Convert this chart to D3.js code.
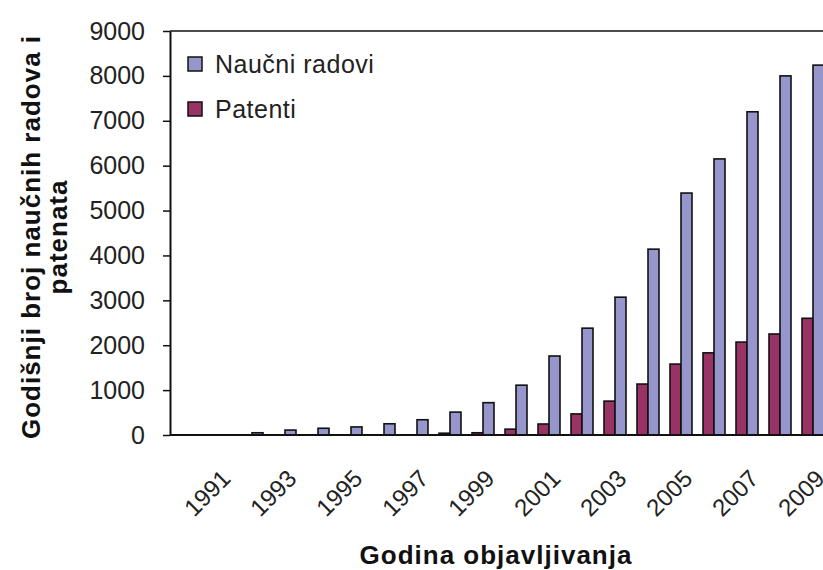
<!DOCTYPE html>
<html>
<head>
<meta charset="utf-8">
<script src="https://cdn.jsdelivr.net/npm/d3@7"></script>
<style>
  body { margin: 0; background: #fff; }
  svg { display: block; font-family: "Liberation Sans", Arial, sans-serif; }
</style>
</head>
<body>
<svg id="chart" width="823" height="570"></svg>
<script>
const years = [1990,1991,1992,1993,1994,1995,1996,1997,1998,1999,2000,2001,2002,2003,2004,2005,2006,2007,2008,2009];
const naucniRadovi = [0,0,50,110,150,180,250,340,510,720,1110,1760,2380,3070,4140,5390,6150,7200,8000,8240];
const patenti =      [0,0,0,0,0,0,0,0,40,50,130,245,470,755,1135,1580,1830,2070,2250,2600];
const yTicks = [0,1000,2000,3000,4000,5000,6000,7000,8000,9000];
const xTickLabels = [1991,1993,1995,1997,1999,2001,2003,2005,2007,2009];
const seriesNames = ["Patenti","Naučni radovi"];
const legendOrder = ["Naučni radovi","Patenti"];
const colors = {"Naučni radovi":"#9696cc","Patenti":"#993366"};

(function () {
const svg = d3.select("#chart");
const mLeft = 170, mTop = 31, mBottom = 435;
const plotRight = 829.5;

const x = d3.scaleBand().domain(years).range([169.5, plotRight]).paddingInner(1/3).paddingOuter(1/6);
const xs = d3.scaleBand().domain(seriesNames).range([0, x.bandwidth()]);
const y = d3.scaleLinear().domain([0, 9000]).range([mBottom, mTop]);

const rows = years.map((yr, i) => ({year: yr, "Patenti": patenti[i], "Naučni radovi": naucniRadovi[i]}));

// top border
svg.append("line").attr("x1", mLeft).attr("x2", 823).attr("y1", mTop).attr("y2", mTop)
  .attr("stroke", "#111").attr("stroke-width", 1.5);

// bars
const g = svg.append("g");
rows.forEach(r => {
  seriesNames.forEach(s => {
    if (r[s] <= 0) return;
    g.append("rect")
      .attr("x", x(r.year) + xs(s))
      .attr("y", y(r[s]))
      .attr("width", xs.bandwidth())
      .attr("height", mBottom - y(r[s]))
      .attr("fill", colors[s])
      .attr("stroke", "#111")
      .attr("stroke-width", 1.6);
  });
});

// y axis
const yAxis = svg.append("g").attr("transform", `translate(${mLeft},0)`)
  .call(d3.axisLeft(y).tickValues(yTicks).tickFormat(d3.format("d")).tickSize(7).tickSizeOuter(0).tickPadding(18));
yAxis.select(".domain").attr("stroke", "#111").attr("stroke-width", 2);
yAxis.selectAll(".tick line").attr("stroke", "#111").attr("stroke-width", 1.5);
yAxis.selectAll(".tick text").attr("font-size", 25).attr("fill", "#222")
  .attr("font-family", "Liberation Sans, Arial, sans-serif");

// x axis line
svg.append("line").attr("x1", mLeft).attr("x2", 823).attr("y1", mBottom).attr("y2", mBottom)
  .attr("stroke", "#111").attr("stroke-width", 2);

// x tick labels
svg.append("g").selectAll("text").data(xTickLabels).join("text")
  .attr("transform", d => `translate(${x(d) + x.bandwidth()/2 + 7},474) rotate(-45)`)
  .attr("text-anchor", "end")
  .attr("dominant-baseline", "central")
  .attr("font-size", 24)
  .attr("fill", "#222")
  .text(d => d);

// legend
const leg = svg.append("g");
legendOrder.forEach((s, i) => {
  const yy = 57 + i * 45;
  leg.append("rect").attr("x", 188).attr("y", yy).attr("width", 14).attr("height", 14)
    .attr("fill", colors[s]).attr("stroke", "#111").attr("stroke-width", 1.5);
  leg.append("text").attr("x", 215).attr("y", yy + 7).attr("dominant-baseline", "central")
    .attr("font-size", 25).attr("letter-spacing", 0.5).attr("fill", "#222").text(s);
});

// axis titles
svg.append("text").attr("transform", "translate(40,237) rotate(-90)")
  .attr("text-anchor", "middle").attr("font-size", 26).attr("font-weight", "bold")
  .attr("letter-spacing", 1).attr("fill", "#111").text("Godišnji broj naučnih radova i");
svg.append("text").attr("transform", "translate(67,237) rotate(-90)")
  .attr("text-anchor", "middle").attr("font-size", 26).attr("font-weight", "bold")
  .attr("letter-spacing", 1).attr("fill", "#111").text("patenata");
svg.append("text").attr("x", 496).attr("y", 564)
  .attr("text-anchor", "middle").attr("font-size", 26).attr("font-weight", "bold")
  .attr("letter-spacing", 1).attr("fill", "#111").text("Godina objavljivanja");
})();
</script>
</body>
</html>
